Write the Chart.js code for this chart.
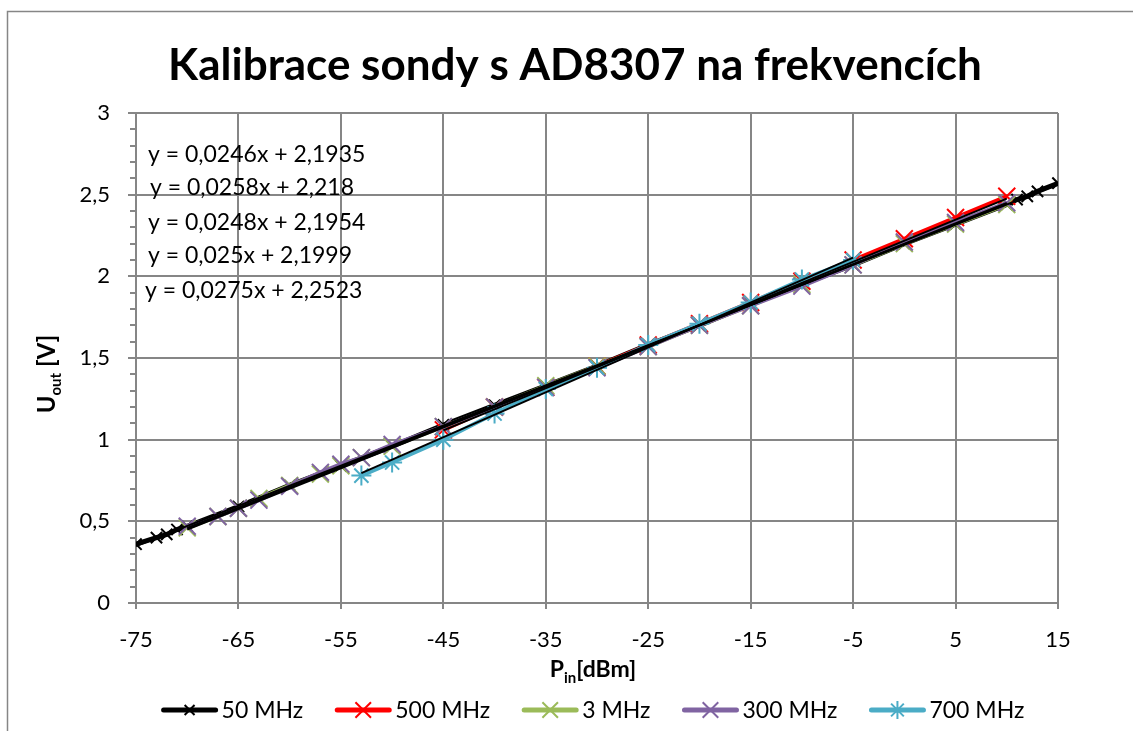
<!DOCTYPE html>
<html>
<head>
<meta charset="utf-8">
<title>Kalibrace sondy s AD8307</title>
<script src="https://cdn.jsdelivr.net/npm/chart.js@4.4.0/dist/chart.umd.min.js"></script>
<style>
    html, body { margin: 0; padding: 0; background: #ffffff; }
    #wrap { width: 1133px; height: 731px; }
</style>
</head>
<body>
<div id="wrap"><canvas id="calChart" width="1133" height="731"></canvas></div>
<script>
// Series names and colours (legend order)
const seriesNames = ["50 MHz", "500 MHz", "3 MHz", "300 MHz", "700 MHz"];
const seriesColors = ["#000000", "#ff0000", "#9bbb59", "#8064a2", "#4bacc6"];

// 50 MHz
const pin50 = [-75, -73, -72, -71, -70, -65, -60, -55, -50, -45, -40, -35, -30, -25, -20, -15, -10, -5, 0, 5, 10, 11, 12, 13, 15];
const uout50 = [0.36, 0.40, 0.42, 0.45, 0.47, 0.59, 0.72, 0.84, 0.96, 1.09, 1.21, 1.33, 1.45, 1.58, 1.70, 1.83, 1.95, 2.07, 2.20, 2.32, 2.44, 2.47, 2.49, 2.52, 2.57];

// 500 MHz
const pin500 = [-45, -40, -35, -30, -25, -20, -15, -10, -5, 0, 5, 10];
const uout500 = [1.06, 1.20, 1.32, 1.45, 1.58, 1.71, 1.84, 1.97, 2.10, 2.23, 2.36, 2.49];

// 3 MHz
const pin3 = [-70, -67, -65, -63, -60, -57, -55, -53, -50, -45, -40, -35, -30, -25, -20, -15, -10, -5, 0, 5, 10];
const uout3 = [0.46, 0.53, 0.58, 0.64, 0.72, 0.79, 0.84, 0.89, 0.96, 1.08, 1.20, 1.33, 1.45, 1.57, 1.70, 1.82, 1.95, 2.07, 2.20, 2.32, 2.44];

// 300 MHz
const pin300 = [-70, -67, -65, -63, -60, -57, -55, -53, -50, -45, -40, -35, -30, -25, -20, -15, -10, -5, 0, 5, 10];
const uout300 = [0.47, 0.53, 0.58, 0.63, 0.715, 0.80, 0.85, 0.89, 0.97, 1.08, 1.20, 1.32, 1.44, 1.57, 1.70, 1.82, 1.94, 2.07, 2.21, 2.33, 2.45];

// 700 MHz
const pin700 = [-53, -50, -45, -40, -35, -30, -25, -20, -15, -10, -5];
const uout700 = [0.78, 0.86, 1.00, 1.16, 1.31, 1.44, 1.58, 1.71, 1.84, 1.98, 2.10];

// Linear trendlines as printed on the chart
const trendSlopes = [0.0246, 0.0258, 0.0248, 0.025, 0.0275];
const trendIntercepts = [2.1935, 2.218, 2.1954, 2.1999, 2.2523];
const trendLabels = [
    "y = 0,0246x + 2,1935",
    "y = 0,0258x + 2,218",
    "y = 0,0248x + 2,1954",
    "y = 0,025x + 2,1999",
    "y = 0,0275x + 2,2523"
];

// Axis ticks
const xTicks = [-75, -65, -55, -45, -35, -25, -15, -5, 5, 15];
const yTicks = [0, 0.5, 1, 1.5, 2, 2.5, 3];
const yMinorTicks = [0.1, 0.2, 0.3, 0.4, 0.6, 0.7, 0.8, 0.9, 1.1, 1.2, 1.3, 1.4, 1.6, 1.7, 1.8, 1.9,
    2.1, 2.2, 2.3, 2.4, 2.6, 2.7, 2.8, 2.9];

const chartTitle = "Kalibrace sondy s AD8307 na frekvencích";

const FONT = "Lato, 'Open Sans', sans-serif";
const GRID = "#868686";

const allPins = [pin50, pin500, pin3, pin300, pin700];
const allUouts = [uout50, uout500, uout3, uout300, uout700];
const markerStyles = ["crossRot", "crossRot", "crossRot", "crossRot", "star"];
const markerSizes = [8, 12, 12, 12, 10];
const drawOrder = [5, 4, 3, 2, 1]; // first series at the bottom, like Excel

function toPoints(xs, ys) {
    return xs.map((x, i) => ({ x: x, y: ys[i] }));
}

// Build measured series
const datasets = seriesNames.map((name, i) => ({
    label: name,
    data: toPoints(allPins[i], allUouts[i]),
    showLine: true,
    borderColor: seriesColors[i],
    backgroundColor: seriesColors[i],
    borderWidth: i === 0 ? 5 : 4,
    pointStyle: markerStyles[i],
    pointRadius: markerSizes[i],
    pointBorderWidth: 2,
    pointBorderColor: seriesColors[i],
    order: drawOrder[i],
    tension: 0
}));

// Build trendlines over each series' range
seriesNames.forEach((name, i) => {
    const xs = allPins[i];
    const x0 = Math.min(...xs), x1 = Math.max(...xs);
    datasets.push({
        label: "trend " + name,
        data: [
            { x: x0, y: trendSlopes[i] * x0 + trendIntercepts[i] },
            { x: x1, y: trendSlopes[i] * x1 + trendIntercepts[i] }
        ],
        showLine: true,
        borderColor: "#000000",
        borderWidth: 2,
        pointRadius: 0,
        order: 0
    });
});

// Draw text with a subscript part
function drawParts(ctx, parts, cx, baseline) {
    let total = 0;
    parts.forEach(p => {
        ctx.font = "bold " + p.size + "px " + FONT;
        p.w = ctx.measureText(p.text).width;
        total += p.w;
    });
    let x = cx - total / 2;
    ctx.textAlign = "left";
    ctx.textBaseline = "alphabetic";
    parts.forEach(p => {
        ctx.font = "bold " + p.size + "px " + FONT;
        ctx.fillText(p.text, x, baseline + p.dy);
        x += p.w;
    });
}

const decorPlugin = {
    id: "decor",
    afterDraw(chart) {
        const ctx = chart.ctx;
        const yScale = chart.scales.y;
        const area = chart.chartArea;
        ctx.save();

        // outer frame
        ctx.strokeStyle = GRID;
        ctx.lineWidth = 1.5;
        ctx.strokeRect(7.5, 11.5, 1200, 800);

        // minor ticks on the value axis
        ctx.strokeStyle = GRID;
        ctx.lineWidth = 2;
        yMinorTicks.forEach(v => {
            const py = Math.round(yScale.getPixelForValue(v));
            ctx.beginPath();
            ctx.moveTo(area.left - 6, py);
            ctx.lineTo(area.left, py);
            ctx.stroke();
        });

        ctx.fillStyle = "#000000";

        // chart title
        ctx.font = "bold 44px " + FONT;
        ctx.textAlign = "center";
        ctx.textBaseline = "alphabetic";
        ctx.fillText(chartTitle, 575, 80);

        // axis titles
        drawParts(ctx, [
            { text: "P", size: 23, dy: 0 },
            { text: "in", size: 15, dy: 6 },
            { text: "[dBm]", size: 23, dy: 0 }
        ], 593, 677);

        ctx.save();
        ctx.translate(55, 374);
        ctx.rotate(-Math.PI / 2);
        drawParts(ctx, [
            { text: "U", size: 24, dy: 0 },
            { text: "out", size: 15, dy: 6 },
            { text: " [V]", size: 24, dy: 0 }
        ], 0, 0);
        ctx.restore();

        // trendline equations
        const eqX = [148, 150, 148, 148, 145];
        const eqY = [162, 195, 230, 263, 298];
        ctx.font = "23px " + FONT;
        ctx.textAlign = "left";
        ctx.textBaseline = "alphabetic";
        trendLabels.forEach((t, i) => ctx.fillText(t, eqX[i], eqY[i]));

        // legend
        const lineLen = 56, gapText = 4, gapItem = 32, ly = 710;
        ctx.font = "23px " + FONT;
        const widths = seriesNames.map(n => ctx.measureText(n).width);
        const total = widths.reduce((a, b) => a + b, 0) + seriesNames.length * (lineLen + gapText) + (seriesNames.length - 1) * gapItem;
        let lx = 593 - total / 2;
        seriesNames.forEach((name, i) => {
            ctx.strokeStyle = seriesColors[i];
            ctx.lineWidth = 5;
            ctx.lineCap = "round";
            ctx.beginPath();
            ctx.moveTo(lx + 2, ly);
            ctx.lineTo(lx + lineLen - 2, ly);
            ctx.stroke();
            ctx.lineWidth = 2;
            ctx.lineCap = "butt";
            Chart.helpers.drawPoint(ctx, {
                pointStyle: markerStyles[i],
                radius: i === 0 ? 7 : markerSizes[i] - 1,
                borderWidth: 2
            }, lx + lineLen / 2, ly);
            ctx.fillStyle = "#000000";
            ctx.textBaseline = "middle";
            ctx.fillText(name, lx + lineLen + gapText, ly + 1);
            lx += lineLen + gapText + widths[i] + gapItem;
        });

        ctx.restore();
    }
};

new Chart(document.getElementById("calChart").getContext("2d"), {
    type: "scatter",
    data: { datasets: datasets },
    options: {
        responsive: false,
        animation: false,
        devicePixelRatio: 1,
        layout: { padding: { top: 113, right: 75, left: 0, bottom: 0 } },
        plugins: {
            legend: { display: false },
            title: { display: false },
            tooltip: { enabled: false }
        },
        scales: {
            x: {
                type: "linear",
                min: -75,
                max: 15,
                afterBuildTicks: scale => { scale.ticks = xTicks.map(v => ({ value: v })); },
                afterFit: scale => { scale.height = 128; },
                grid: { color: GRID, lineWidth: 2, tickLength: 6 },
                border: { color: GRID, width: 2 },
                ticks: {
                    color: "#000000",
                    font: { family: FONT, size: 22 },
                    padding: 18,
                    maxRotation: 0,
                    callback: v => String(v)
                }
            },
            y: {
                type: "linear",
                min: 0,
                max: 3,
                afterBuildTicks: scale => { scale.ticks = yTicks.map(v => ({ value: v })); },
                afterFit: scale => { scale.width = 136; },
                grid: { color: GRID, lineWidth: 2, tickLength: 8 },
                border: { color: GRID, width: 2 },
                ticks: {
                    color: "#000000",
                    font: { family: FONT, size: 22 },
                    padding: 18,
                    callback: v => String(v).replace(".", ",")
                }
            }
        }
    },
    plugins: [decorPlugin]
});
</script>
</body>
</html>
